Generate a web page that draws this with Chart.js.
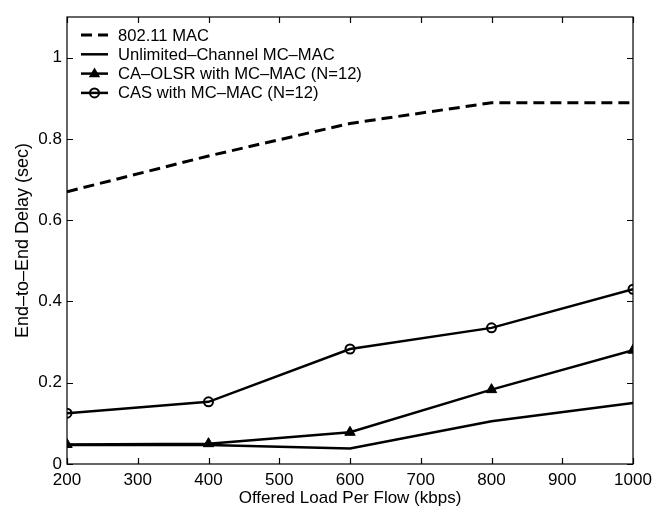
<!DOCTYPE html>
<html><head><meta charset="utf-8">
<script src="https://cdn.jsdelivr.net/npm/chart.js@4/dist/chart.umd.min.js"></script>
<style>html,body{margin:0;padding:0;background:#fff;}#wrap{width:665px;height:512px;}</style>
</head><body><div id="wrap"><canvas id="c" width="665" height="512"></canvas></div>
<script>
const loads = [200, 400, 600, 800, 1000];
const mac80211 = [0.67, 0.758, 0.838, 0.889, 0.889];
const unlimited = [0.047, 0.047, 0.038, 0.105, 0.150];
const caOlsr = [0.048, 0.050, 0.078, 0.183, 0.280];
const cas = [0.125, 0.153, 0.283, 0.335, 0.430];
const xTicks = [200, 300, 400, 500, 600, 700, 800, 900, 1000];
const yTicks = [0, 0.2, 0.4, 0.6, 0.8, 1];
const labels = ['802.11 MAC', 'Unlimited\u2013Channel MC\u2013MAC', 'CA\u2013OLSR with MC\u2013MAC (N=12)', 'CAS with MC\u2013MAC (N=12)'];

const FONT = 'Liberation Sans, Arial, Helvetica, sans-serif';
const pts = arr => arr.map((v, i) => ({x: loads[i], y: v}));

const frame = {
  id: 'frame',
  afterDraw(chart) {
    const {ctx, chartArea: a, scales: {x, y}} = chart;
    ctx.save();
    ctx.strokeStyle = '#000';
    ctx.lineWidth = 1.2;
    ctx.strokeRect(a.left, a.top, a.right - a.left, a.bottom - a.top);
    const L = 6;
    ctx.beginPath();
    xTicks.forEach(v => {
      const px = Math.round(x.getPixelForValue(v)) + 0.5;
      ctx.moveTo(px, a.bottom); ctx.lineTo(px, a.bottom - L);
      ctx.moveTo(px, a.top); ctx.lineTo(px, a.top + L);
    });
    yTicks.forEach(v => {
      const py = Math.round(y.getPixelForValue(v)) + 0.5;
      ctx.moveTo(a.left, py); ctx.lineTo(a.left + L, py);
      ctx.moveTo(a.right, py); ctx.lineTo(a.right - L, py);
    });
    ctx.stroke();
    // legend
    const lx0 = a.left + 14, lx1 = a.left + 41, tx = a.left + 51;
    let ly = a.top + 18;
    ctx.font = '16.6px ' + FONT;
    ctx.textBaseline = 'middle';
    ctx.fillStyle = '#000';
    chart.data.datasets.forEach((ds, i) => {
      ctx.beginPath();
      ctx.lineWidth = ds.borderWidth;
      ctx.setLineDash(ds.borderDash || []);
      ctx.moveTo(lx0, ly); ctx.lineTo(lx1, ly);
      ctx.stroke();
      ctx.setLineDash([]);
      const cx = (lx0 + lx1) / 2;
      if (ds.pointStyle === 'triangle') {
        const r = 6;
        ctx.beginPath();
        ctx.moveTo(cx, ly - r); ctx.lineTo(cx + r * 0.95, ly + r * 0.6); ctx.lineTo(cx - r * 0.95, ly + r * 0.6); ctx.closePath();
        ctx.fill();
      } else if (ds.pointStyle === 'circle' && ds.pointRadius > 0) {
        ctx.beginPath(); ctx.lineWidth = 2; ctx.arc(cx, ly, 4.5, 0, Math.PI * 2); ctx.stroke();
      }
      ctx.fillText(ds.label, tx, ly + 1);
      ly += 19.3;
    });
    ctx.restore();
  }
};

new Chart(document.getElementById('c'), {
  type: 'line',
  data: {
    datasets: [
      {label: labels[0], data: pts(mac80211), borderColor: '#000', borderWidth: 3, borderDash: [11, 6], pointRadius: 0, fill: false},
      {label: labels[1], data: pts(unlimited), borderColor: '#000', borderWidth: 2.5, pointRadius: 0, fill: false},
      {label: labels[2], data: pts(caOlsr), borderColor: '#000', borderWidth: 2.5, pointStyle: 'triangle', pointRadius: 6, pointBackgroundColor: '#000', pointBorderColor: '#000', pointBorderWidth: 1, fill: false},
      {label: labels[3], data: pts(cas), borderColor: '#000', borderWidth: 2.5, pointStyle: 'circle', pointRadius: 4.5, pointBackgroundColor: 'rgba(0,0,0,0)', pointBorderColor: '#000', pointBorderWidth: 2, fill: false}
    ]
  },
  options: {
    responsive: false,
    animation: false,
    events: [],
    layout: {padding: {left: 0, right: 32, top: 17, bottom: 0}},
    plugins: {legend: {display: false}, tooltip: {enabled: false}},
    scales: {
      x: {
        type: 'linear', min: 200, max: 1000,
        afterBuildTicks: s => { s.ticks = xTicks.map(v => ({value: v})); },
        afterFit: s => { s.height = 48; },
        grid: {display: false, drawTicks: false},
        border: {display: false},
        ticks: {color: '#000', font: {family: FONT, size: 17}, padding: 6, maxRotation: 0, autoSkip: false, callback: v => String(v)},
        title: {display: true, text: 'Offered Load Per Flow (kbps)', color: '#000', font: {family: FONT, size: 17}, padding: {top: 0, bottom: 3}}
      },
      y: {
        type: 'linear', min: 0, max: 1.1,
        afterBuildTicks: s => { s.ticks = yTicks.map(v => ({value: v})); },
        afterFit: s => { s.width = 67; },
        grid: {display: false, drawTicks: false},
        border: {display: false},
        ticks: {color: '#000', font: {family: FONT, size: 17}, padding: 5, callback: v => String(v)},
        title: {display: true, text: 'End\u2013to\u2013End Delay (sec)', color: '#000', font: {family: FONT, size: 18}, padding: {top: 12, bottom: 0}}
      }
    }
  },
  plugins: [frame]
});
</script></body></html>
